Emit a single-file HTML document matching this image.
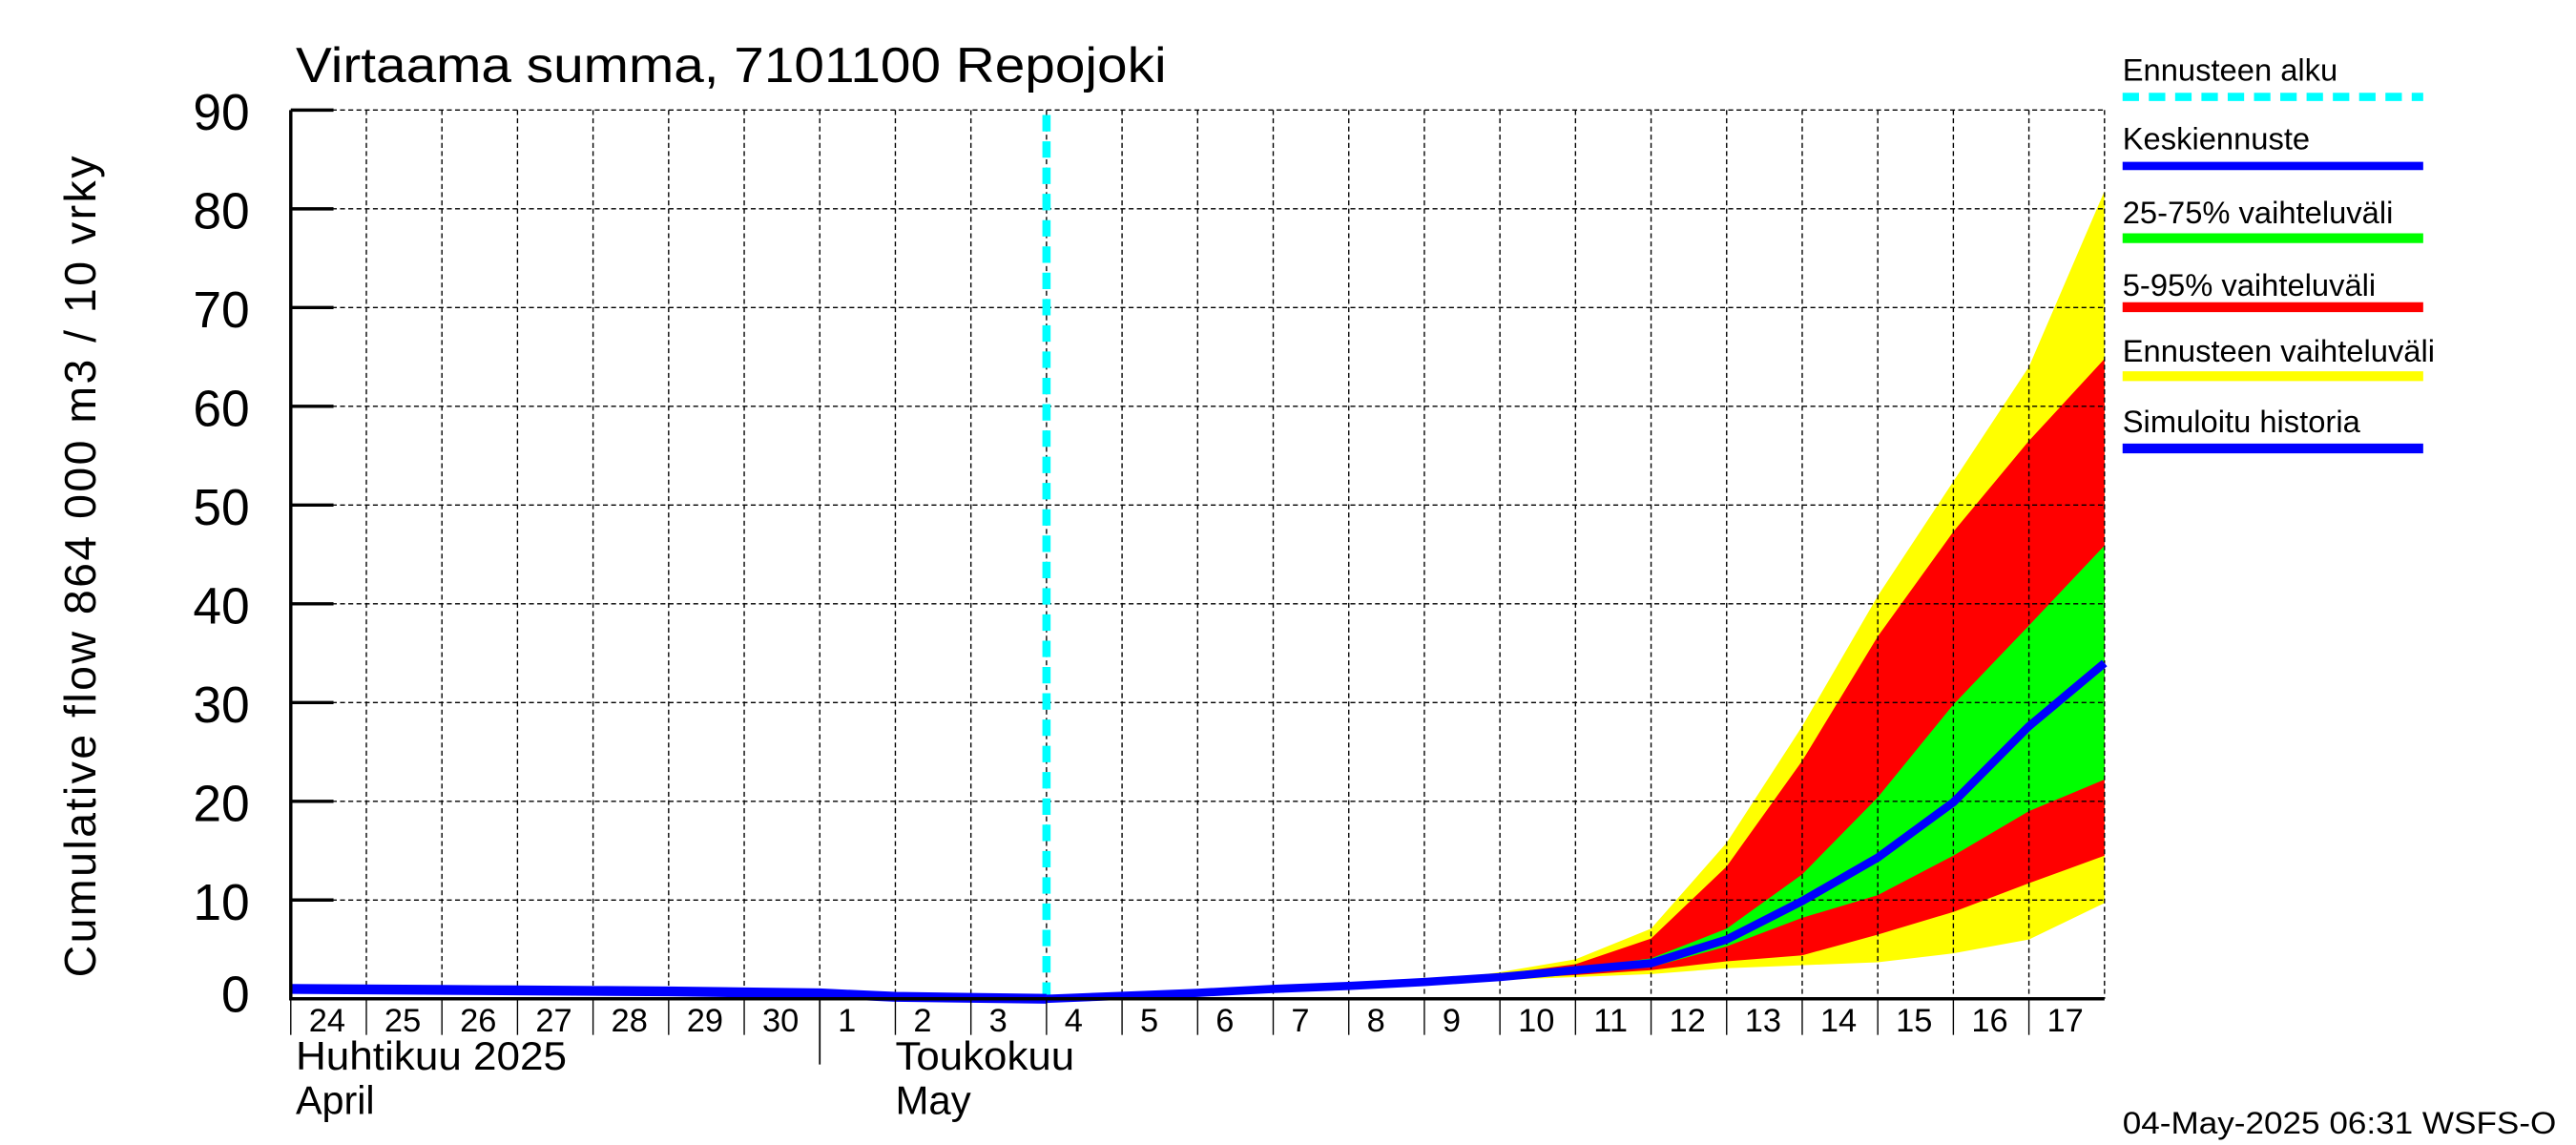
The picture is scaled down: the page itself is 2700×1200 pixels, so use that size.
<!DOCTYPE html>
<html><head><meta charset="utf-8"><style>
html,body{margin:0;padding:0;background:#fff;}
svg{display:block;font-family:"Liberation Sans",sans-serif;}
</style></head><body>
<svg id="chart" width="2700" height="1200" viewBox="0 0 1568 697" preserveAspectRatio="none" xmlns="http://www.w3.org/2000/svg">
<text x="180" y="50" font-size="30" textLength="530" lengthAdjust="spacingAndGlyphs">Virtaama summa, 7101100 Repojoki</text>
<text transform="translate(58,345) rotate(-90)" text-anchor="middle" font-size="27" textLength="500" lengthAdjust="spacing">Cumulative flow    864 000 m3 / 10 vrky</text>
<g id="bands"></g>
<g id="grid"></g>
<g id="lines"></g>
<g id="axes"></g>
<g font-size="19">
<text x="1292" y="49">Ennusteen alku</text>
<line x1="1292" y1="59" x2="1475" y2="59" stroke="#00ffff" stroke-width="5" stroke-dasharray="10,6"/>
<text x="1292" y="91">Keskiennuste</text>
<line x1="1292" y1="101" x2="1475" y2="101" stroke="#0000ff" stroke-width="5"/>
<text x="1292" y="136">25-75% vaihteluväli</text>
<line x1="1292" y1="145" x2="1475" y2="145" stroke="#00ff00" stroke-width="6"/>
<text x="1292" y="180">5-95% vaihteluväli</text>
<line x1="1292" y1="187" x2="1475" y2="187" stroke="#ff0000" stroke-width="6"/>
<text x="1292" y="220">Ennusteen vaihteluväli</text>
<line x1="1292" y1="229" x2="1475" y2="229" stroke="#ffff00" stroke-width="6"/>
<text x="1292" y="263">Simuloitu historia</text>
<line x1="1292" y1="273" x2="1475" y2="273" stroke="#0000ff" stroke-width="6"/>
</g>
<text x="1292" y="690" font-size="19" textLength="264" lengthAdjust="spacingAndGlyphs">04-May-2025 06:31 WSFS-O</text>
</svg>
<script>
// days since 24 Apr (index 0 = start of 24 Apr)
const dayLabels = ["24","25","26","27","28","29","30","1","2","3","4","5","6","7","8","9","10","11","12","13","14","15","16","17"];
const yTicks = [0,10,20,30,40,50,60,70,80,90];
const historyDays = [0,1,2,3,4,5,6,7,8,9,10];
const historyVals = [1.0,0.95,0.9,0.85,0.8,0.75,0.65,0.55,0.2,0.1,0];
const fcDays = [10,11,12,13,14,15,16,17,18,19,20,21,22,23,24];
const median   = [0,0.3,0.6,1.0,1.3,1.7,2.2,2.9,3.6,6.0,9.9,14.3,19.9,27.6,34.0];
const p25      = [0,0.3,0.6,1.0,1.3,1.7,2.1,2.6,3.2,5.3,8.2,10.5,14.5,19.0,22.2];
const p75      = [0,0.3,0.6,1.0,1.3,1.7,2.3,3.1,4.1,7.1,12.6,20.4,29.8,37.8,45.9];
const p05      = [0,0.3,0.6,1.0,1.3,1.7,2.0,2.4,2.9,3.8,4.4,6.5,8.8,11.7,14.5];
const p95      = [0,0.3,0.6,1.0,1.3,1.7,2.5,3.5,6.1,13.4,24.1,36.7,47.3,56.5,64.8];
const pMin     = [0,0.3,0.6,1.0,1.3,1.7,1.9,2.2,2.5,3.1,3.4,3.7,4.6,6.0,9.7];
const pMax     = [0,0.3,0.6,1.0,1.3,1.7,2.7,4.0,7.1,15.8,27.6,40.8,52.4,64.0,81.8];
const forecastStartDay = 10;

const X0=177, DW=46, Y0=608, YS=(608-67)/90;
const xs = d => X0 + d*DW;
const ys = v => Y0 - v*YS;
const NS="http://www.w3.org/2000/svg";
function mk(tag, parent, attrs){const e=document.createElementNS(NS,tag);for(const k in attrs)e.setAttribute(k,attrs[k]);parent.appendChild(e);return e;}
const bands=document.getElementById('bands'), grid=document.getElementById('grid'), lines=document.getElementById('lines'), axes=document.getElementById('axes');
function band(lo,hi,color,name){
  let pts=fcDays.map((d,i)=>xs(d)+','+ys(hi[i]));
  pts=pts.concat(fcDays.slice().reverse().map((d,j)=>xs(d)+','+ys(lo[fcDays.length-1-j])));
  const p=mk('polygon',bands,{points:pts.join(' '),fill:color});
  
  
}
band(pMin,pMax,'#ffff00','band-full-range');
band(p05,p95,'#ff0000','band-5-95');
band(p25,p75,'#00ff00','band-25-75');
const XR = xs(dayLabels.length);
yTicks.forEach(v=>{
  if(v>0){const g=mk('line',grid,{x1:X0,x2:XR,y1:ys(v),y2:ys(v),stroke:'#000','stroke-width':0.8,'stroke-dasharray':'3,2'});
  
  }
  const t=mk('line',axes,{x1:X0,x2:X0+26,y1:ys(v),y2:ys(v),stroke:'#000','stroke-width':2});
  
  
  const l=mk('text',axes,{x:152,y:ys(v)+ (v===0?8:12),'text-anchor':'end','font-size':31});
  l.textContent=v;
  
  
});
for(let i=1;i<=dayLabels.length;i++){
  const g=mk('line',grid,{x1:xs(i),x2:xs(i),y1:67,y2:Y0,stroke:'#000','stroke-width':0.8,'stroke-dasharray':'3,2'});
  
  
}
dayLabels.forEach((lab,i)=>{
  const t=mk('line',axes,{x1:xs(i),x2:xs(i),y1:Y0,y2:i===7?648:630,stroke:'#000','stroke-width':i===7?1:0.8});
  
  
  const l=mk('text',axes,{x:xs(i)+11,y:628,'font-size':20});
  l.textContent=lab;
  
  
});
[["Huhtikuu  2025",180,651,165],["April",180,678,48],["Toukokuu",545,651,109],["May",545,678,46]].forEach(m=>{
  const l=mk('text',axes,{x:m[1],y:m[2],'font-size':24,textLength:m[3],lengthAdjust:'spacingAndGlyphs'});
  l.textContent=m[0];
  
  
});
const fl=mk('line',lines,{x1:xs(forecastStartDay),x2:xs(forecastStartDay),y1:70,y2:Y0,stroke:'#00ffff','stroke-width':5,'stroke-dasharray':'10,6'});


const hp=mk('polyline',lines,{points:historyDays.map((d,i)=>xs(d)+','+ys(historyVals[i])).join(' '),fill:'none',stroke:'#0000ff','stroke-width':6});


const mp=mk('polyline',lines,{points:fcDays.map((d,i)=>xs(d)+','+ys(median[i])).join(' '),fill:'none',stroke:'#0000ff','stroke-width':5});


const ax=mk('path',axes,{d:`M${X0},67 V${Y0} H${XR}`,fill:'none',stroke:'#000','stroke-width':2});


</script>
</body></html>
